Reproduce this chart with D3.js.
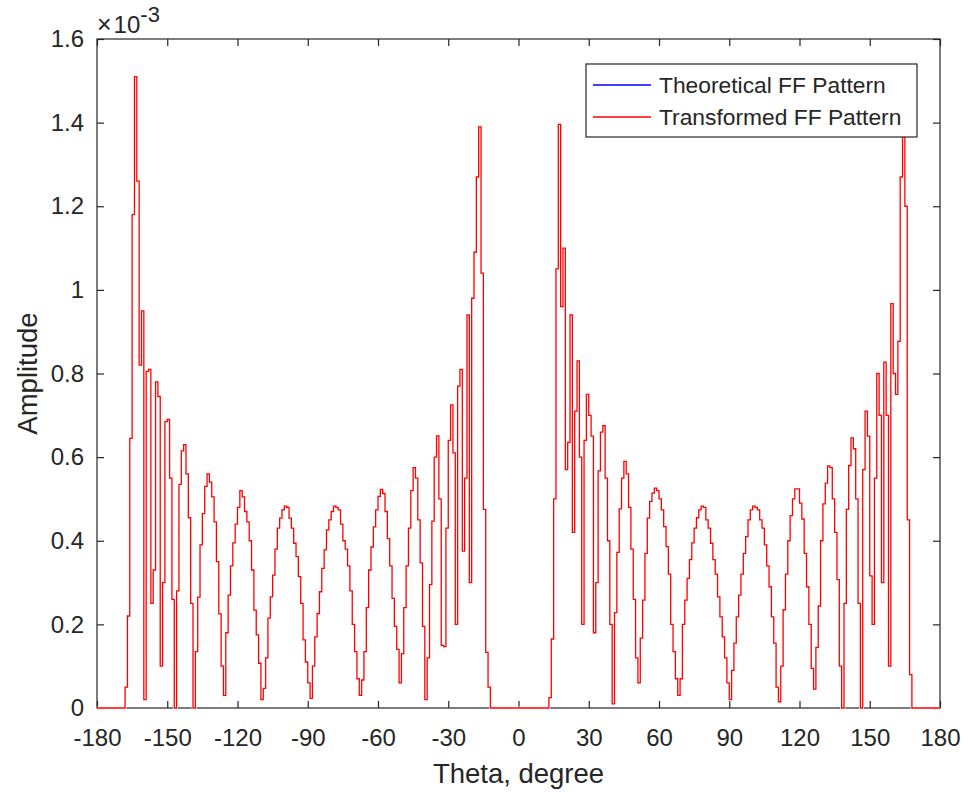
<!DOCTYPE html>
<html>
<head>
<meta charset="utf-8">
<script src="https://cdn.jsdelivr.net/npm/d3@7"></script>
<style>
  html, body { margin: 0; padding: 0; background: #ffffff; }
  text { font-family: "Liberation Sans", Arial, Helvetica, sans-serif; fill: #262626; }
</style>
</head>
<body>
<script>
// ---------------- data (amplitude in units of 1e-3) ----------------
const thetaStart = -180;   // first sample angle, degrees
const thetaStep = 1;       // sample spacing, degrees

// Transformed FF pattern amplitude, one value per degree from -180 to 180
const transformedAmp = [
  /* -180..-171 */ 0, 0, 0, 0, 0, 0, 0, 0, 0, 0,
  /* -170..-161 */ 0, 0, 0.05, 0.22, 0.645, 1.18, 1.51, 1.26, 0.82, 0.95,
  /* -160..-151 */ 0.02, 0.805, 0.81, 0.25, 0.33, 0.78, 0.745, 0.1, 0.3, 0.685,
  /* -150..-141 */ 0.69, 0.55, 0.26, 0.0, 0.28, 0.535, 0.615, 0.63, 0.56, 0.455,
  /* -140..-131 */ 0.25, 0.0, 0.135, 0.265, 0.39, 0.465, 0.53, 0.56, 0.54, 0.505,
  /* -130..-121 */ 0.445, 0.35, 0.225, 0.1, 0.03, 0.18, 0.27, 0.34, 0.395, 0.44,
  /* -120..-111 */ 0.48, 0.52, 0.505, 0.47, 0.445, 0.40, 0.33, 0.234, 0.175, 0.107,
  /* -110..-101 */ 0.02, 0.047, 0.12, 0.215, 0.266, 0.318, 0.38, 0.43, 0.454, 0.474,
  /* -100..-91  */ 0.483, 0.48, 0.454, 0.43, 0.394, 0.362, 0.314, 0.25, 0.163, 0.11,
  /* -90..-81   */ 0.06, 0.023, 0.10, 0.17, 0.226, 0.278, 0.334, 0.378, 0.426, 0.45,
  /* -80..-71   */ 0.47, 0.483, 0.48, 0.474, 0.44, 0.40, 0.38, 0.34, 0.28, 0.2,
  /* -70..-61   */ 0.135, 0.07, 0.03, 0.067, 0.135, 0.24, 0.33, 0.385, 0.433, 0.474,
  /* -60..-51   */ 0.506, 0.523, 0.513, 0.47, 0.405, 0.34, 0.262, 0.195, 0.14, 0.06,
  /* -50..-41   */ 0.13, 0.24, 0.34, 0.43, 0.52, 0.575, 0.55, 0.45, 0.347, 0.195,
  /* -40..-31   */ 0.02, 0.12, 0.295, 0.447, 0.6, 0.651, 0.5, 0.15, 0.147, 0.43,
  /* -30..-21   */ 0.64, 0.725, 0.61, 0.2, 0.77, 0.81, 0.375, 0.55, 0.94, 0.3,
  /* -20..-11   */ 0.98, 1.09, 1.27, 1.39, 1.04, 0.475, 0.133, 0.05, 0, 0,
  /* -10..-1    */ 0, 0, 0, 0, 0, 0, 0, 0, 0, 0,
  /* 0..9       */ 0, 0, 0, 0, 0, 0, 0, 0, 0, 0,
  /* 10..19     */ 0, 0, 0, 0.025, 0.165, 0.5, 1.05, 1.396, 0.96, 1.1,
  /* 20..29     */ 0.57, 0.635, 0.94, 0.42, 0.71, 0.83, 0.6, 0.2, 0.64, 0.75,
  /* 30..39     */ 0.7, 0.65, 0.18, 0.3, 0.567, 0.66, 0.675, 0.55, 0.40, 0.2,
  /* 40..49     */ 0.01, 0.228, 0.372, 0.476, 0.55, 0.59, 0.56, 0.48, 0.38, 0.26,
  /* 50..59     */ 0.12, 0.06, 0.167, 0.258, 0.37, 0.454, 0.494, 0.514, 0.526, 0.52,
  /* 60..69     */ 0.50, 0.474, 0.434, 0.386, 0.32, 0.2, 0.135, 0.07, 0.03, 0.07,
  /* 70..79     */ 0.2, 0.258, 0.31, 0.355, 0.395, 0.43, 0.455, 0.474, 0.483, 0.48,
  /* 80..89     */ 0.45, 0.43, 0.394, 0.355, 0.32, 0.266, 0.218, 0.17, 0.12, 0.06,
  /* 90..99     */ 0.02, 0.09, 0.155, 0.218, 0.27, 0.32, 0.37, 0.41, 0.45, 0.474,
  /* 100..109   */ 0.483, 0.48, 0.474, 0.45, 0.43, 0.39, 0.34, 0.29, 0.218, 0.155,
  /* 110..119   */ 0.05, 0.015, 0.1, 0.235, 0.32, 0.40, 0.46, 0.5, 0.524, 0.524,
  /* 120..129   */ 0.49, 0.452, 0.37, 0.29, 0.2, 0.095, 0.045, 0.145, 0.244, 0.40,
  /* 130..139   */ 0.488, 0.538, 0.579, 0.575, 0.5, 0.42, 0.307, 0.1, 0.0, 0.25,
  /* 140..149   */ 0.475, 0.58, 0.646, 0.62, 0.5, 0.25, 0.0, 0.57, 0.71, 0.65,
  /* 150..159   */ 0.316, 0.2, 0.55, 0.8, 0.7, 0.3, 0.827, 0.7, 0.1, 0.967,
  /* 160..169   */ 0.8, 0.75, 0.877, 1.27, 1.366, 1.2, 0.45, 0.08, 0, 0,
  /* 170..179   */ 0, 0, 0, 0, 0, 0, 0, 0, 0, 0,
  /* 180        */ 0
];
// Theoretical FF pattern coincides with the transformed one (hidden beneath it)
const theoreticalAmp = transformedAmp;

const xTicks = [-180, -150, -120, -90, -60, -30, 0, 30, 60, 90, 120, 150, 180];
const yTicks = [0, 0.2, 0.4, 0.6, 0.8, 1, 1.2, 1.4, 1.6];
const seriesNames = ["Theoretical FF Pattern", "Transformed FF Pattern"];
const seriesColors = ["#0000ff", "#ff0000"];
const xLabel = "Theta, degree";
const yLabel = "Amplitude";

// ---------------- layout ----------------
const W = 968, H = 796;
const plot = { left: 97, top: 39, right: 940, bottom: 708 };
const axisColor = "#262626";
const tickFont = 24;
const FONT = '"Liberation Sans", Arial, sans-serif';

const svg = d3.select("body").append("svg")
  .attr("width", W).attr("height", H)
  .style("display", "block");

svg.append("rect").attr("width", W).attr("height", H).attr("fill", "#ffffff");

const x = d3.scaleLinear().domain([-180, 180]).range([plot.left, plot.right]);
const y = d3.scaleLinear().domain([0, 1.6]).range([plot.bottom, plot.top]);

const toPoints = arr => arr.map((v, i) => ({ theta: thetaStart + i * thetaStep, amp: v }));

// axes
const fmt = d => String(d);
function styleAxis(g) {
  g.select(".domain").remove();
  g.selectAll(".tick line").attr("stroke", axisColor).attr("stroke-width", 1.2);
  g.selectAll(".tick text")
    .attr("fill", axisColor)
    .style("font-size", tickFont + "px")
    .style("font-family", FONT);
}

svg.append("g")
  .attr("transform", `translate(0,${plot.bottom})`)
  .call(d3.axisBottom(x).tickValues(xTicks).tickSize(-7).tickPadding(21).tickFormat(fmt))
  .call(styleAxis);

svg.append("g")
  .attr("transform", `translate(0,${plot.top})`)
  .call(d3.axisTop(x).tickValues(xTicks).tickSize(-7).tickFormat(""))
  .call(styleAxis);

svg.append("g")
  .attr("transform", `translate(${plot.left},0)`)
  .call(d3.axisLeft(y).tickValues(yTicks).tickSize(-7).tickPadding(13).tickFormat(fmt))
  .call(styleAxis);

svg.append("g")
  .attr("transform", `translate(${plot.right},0)`)
  .call(d3.axisRight(y).tickValues(yTicks).tickSize(-7).tickFormat(""))
  .call(styleAxis);

// box
svg.append("rect")
  .attr("x", plot.left).attr("y", plot.top)
  .attr("width", plot.right - plot.left).attr("height", plot.bottom - plot.top)
  .attr("fill", "none").attr("stroke", axisColor).attr("stroke-width", 1.2);

// clip
svg.append("defs").append("clipPath").attr("id", "plotclip")
  .append("rect")
  .attr("x", plot.left).attr("y", plot.top - 1)
  .attr("width", plot.right - plot.left).attr("height", plot.bottom - plot.top + 2);

// series (theoretical drawn first, fully covered by the transformed pattern)
const line = d3.line()
  .x(d => x(d.theta))
  .y(d => y(d.amp))
  .curve(d3.curveStepAfter);

const gLines = svg.append("g").attr("clip-path", "url(#plotclip)");
gLines.append("path")
  .datum(toPoints(theoreticalAmp))
  .attr("fill", "none")
  .attr("stroke", seriesColors[0])
  .attr("stroke-width", 1)
  .attr("d", line);
// knockout so the hidden series does not tint the visible one
gLines.append("path")
  .datum(toPoints(transformedAmp))
  .attr("fill", "none")
  .attr("stroke", "#ffffff")
  .attr("stroke-width", 2.6)
  .attr("d", line);
gLines.append("path")
  .datum(toPoints(transformedAmp))
  .attr("fill", "none")
  .attr("stroke", seriesColors[1])
  .attr("stroke-width", 1.3)
  .attr("d", line);

// exponent label  x10^-3
const expo = svg.append("text")
  .attr("x", plot.left).attr("y", 33);
expo.append("tspan").style("font-size", "25px").text("\u00d7");
expo.append("tspan").attr("dx", 2).style("font-size", "24px").text("10");
expo.append("tspan").attr("dy", -11).style("font-size", "22px").text("-3");

// axis labels
svg.append("text")
  .attr("x", (plot.left + plot.right) / 2).attr("y", 783)
  .attr("text-anchor", "middle")
  .style("font-size", "27.5px")
  .text(xLabel);

svg.append("text")
  .attr("transform", `translate(37,${(plot.top + plot.bottom) / 2}) rotate(-90)`)
  .attr("text-anchor", "middle")
  .style("font-size", "27.5px")
  .text(yLabel);

// legend
const lg = { x: 586, y: 64, w: 331, h: 73 };
svg.append("rect")
  .attr("x", lg.x).attr("y", lg.y).attr("width", lg.w).attr("height", lg.h)
  .attr("fill", "#ffffff").attr("stroke", axisColor).attr("stroke-width", 1.2);
const rowY = [85, 117];
seriesNames.forEach((name, k) => {
  svg.append("line")
    .attr("x1", 593).attr("x2", 651)
    .attr("y1", rowY[k]).attr("y2", rowY[k])
    .attr("stroke", seriesColors[k]).attr("stroke-width", 1.3);
  svg.append("text")
    .attr("x", 659).attr("y", rowY[k])
    .attr("dy", "0.35em")
    .style("font-size", "22.8px")
    .text(name);
});
</script>
</body>
</html>
